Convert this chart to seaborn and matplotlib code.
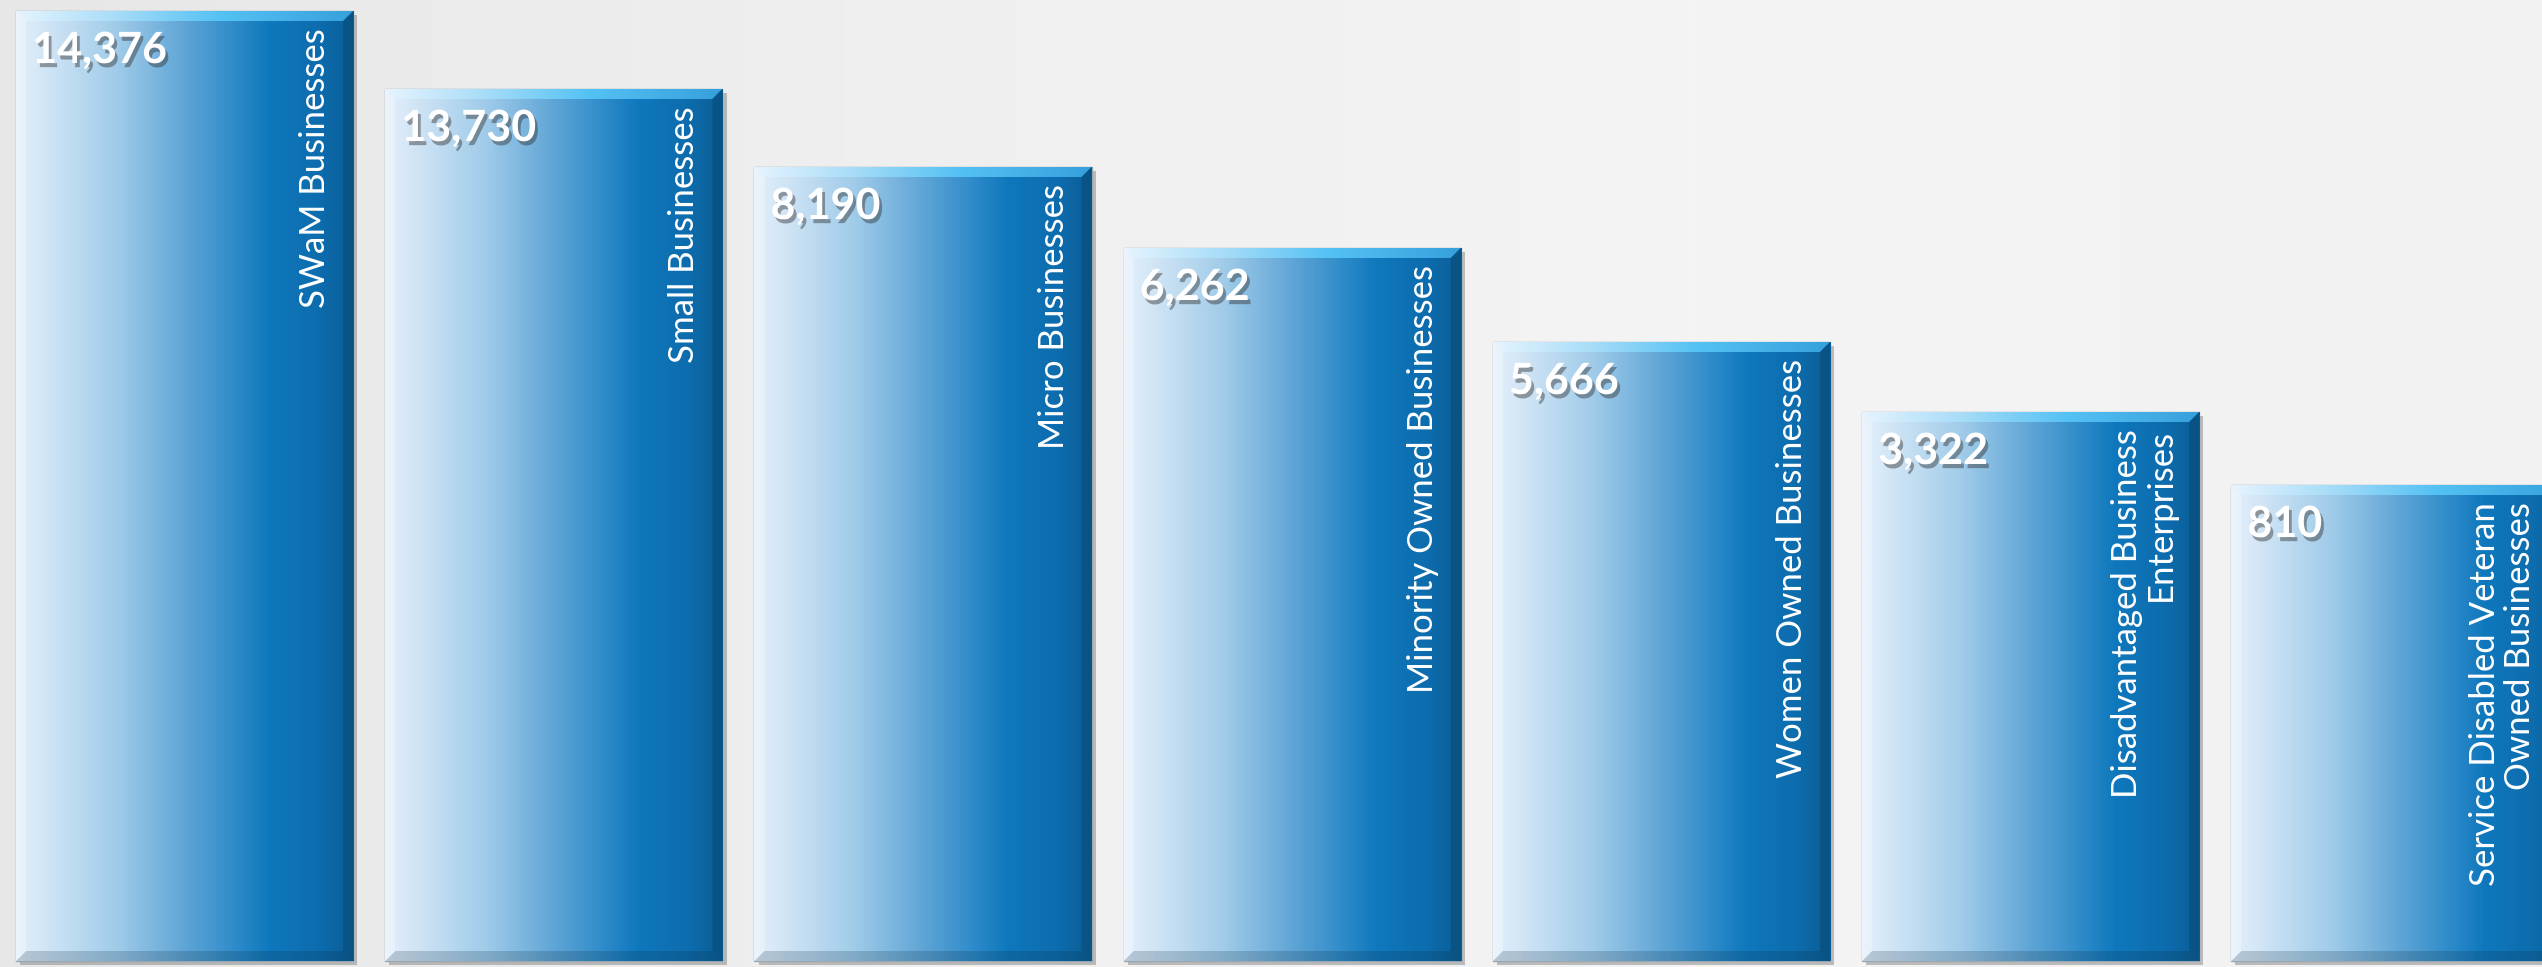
import numpy as np
import pandas as pd
import matplotlib
matplotlib.use("Agg")
import matplotlib.pyplot as plt
import matplotlib.patheffects as pe
from matplotlib.colors import LinearSegmentedColormap
from matplotlib.patches import Polygon
import seaborn as sns

# data
categories = ["SWaM Businesses", "Small Businesses", "Micro Businesses",
              "Minority Owned Businesses", "Women Owned Businesses",
              "Disadvantaged Business\nEnterprises",
              "Service Disabled Veteran\nOwned Businesses"]
counts = [14376, 13730, 8190, 6262, 5666, 3322, 810]
# the bars in the original are not drawn to scale with the counts,
# these are their drawn heights
bar_height = [950, 872, 794, 713, 619, 549, 476]

df = pd.DataFrame({"category": categories, "height": bar_height})

sns.set_theme(style="white")
plt.rcParams["font.family"] = ["Lato", "DejaVu Sans"]

W, H = 2542, 967
fig = plt.figure(figsize=(W / 100, H / 100), dpi=100)
fig.patch.set_facecolor("#efefef")

# light background, a bit darker on the left
bg = fig.add_axes([0, 0, 1, 1])
bg_cmap = LinearSegmentedColormap.from_list("bg", ["#e7e7e7", "#efefef", "#f4f4f4", "#f2f2f2"])
bg.imshow(np.linspace(0, 1, 256).reshape(1, -1), cmap=bg_cmap, aspect="auto", extent=[0, 1, 0, 1])
bg.axis("off")

ax = fig.add_axes([0, 0, 1, 1])
ax.patch.set_alpha(0)
sns.barplot(data=df, x="category", y="height", width=0.913, color="#1a78b8",
            saturation=1, ax=ax)

xmin, xmax = -0.5, 6.385
ymin, ymax = -6, 961
px = (xmax - xmin) / W   # one pixel in x data units, y units are pixels

body = LinearSegmentedColormap.from_list("body", [
    (0.0, "#e4effb"), (0.08, "#d3e6f6"), (0.3, "#9fcbe9"), (0.5, "#5fa5d6"),
    (0.65, "#2e8bc9"), (0.75, "#0f78bd"), (0.9, "#0d6cad"), (1.0, "#0b5d95")])
topc = LinearSegmentedColormap.from_list("top", [
    (0.0, "#e6f4fe"), (0.3, "#a6dcf8"), (0.6, "#55c2f4"), (1.0, "#36a0dc")])
grad = np.linspace(0, 1, 256).reshape(1, -1)
bev = 10

for i, patch in enumerate(ax.patches):
    x0, w, h = patch.get_x(), patch.get_width(), patch.get_height()
    x1, top = x0 + w, h
    patch.set_edgecolor("#9aa6b0")
    patch.set_linewidth(1)
    patch.set_path_effects([pe.SimplePatchShadow(offset=(3, -3), shadow_rgbFace="#777777", alpha=0.45),
                            pe.Normal()])
    im = ax.imshow(grad, cmap=body, aspect="auto", extent=[x0, x1, 0, top], zorder=2)
    im.set_clip_path(patch)

    d = bev * px
    top_poly = Polygon([(x0, top), (x1, top), (x1 - d, top - bev), (x0 + d, top - bev)],
                       closed=True, facecolor="none", edgecolor="none", zorder=3)
    ax.add_patch(top_poly)
    tim = ax.imshow(grad, cmap=topc, aspect="auto", extent=[x0, x1, top - bev, top], zorder=3)
    tim.set_clip_path(top_poly)
    ax.add_patch(Polygon([(x1, top), (x1, 0), (x1 - d, bev), (x1 - d, top - bev)],
                         closed=True, facecolor="#08466f", alpha=0.45, lw=0, zorder=3))
    ax.add_patch(Polygon([(x0, 0), (x1, 0), (x1 - d, bev), (x0 + d, bev)],
                         closed=True, facecolor="#0a2a40", alpha=0.2, lw=0, zorder=3))
    ax.add_patch(Polygon([(x0, 0), (x0, top), (x0 + d, top - bev), (x0 + d, bev)],
                         closed=True, facecolor="white", alpha=0.3, lw=0, zorder=3))

    ax.text(x0 + 16 * px, top - 19, f"{counts[i]:,}", ha="left", va="top",
            fontsize=31, fontweight="bold", color="white", zorder=5,
            path_effects=[pe.withSimplePatchShadow(offset=(2, -3), shadow_rgbFace="#333333", alpha=0.45)])
    # last bar runs off the right edge, keep its label inside the picture
    lx = min(x1 - 22 * px, xmax - 6 * px)
    ax.text(lx, top - 17, categories[i], rotation=90, ha="right", va="top",
            multialignment="right", fontsize=25, color="white", zorder=5, linespacing=1.1)

ax.set_xlim(xmin, xmax)
ax.set_ylim(ymin, ymax)
ax.axis("off")

fig.savefig("out.png", dpi=100, facecolor=fig.get_facecolor())
